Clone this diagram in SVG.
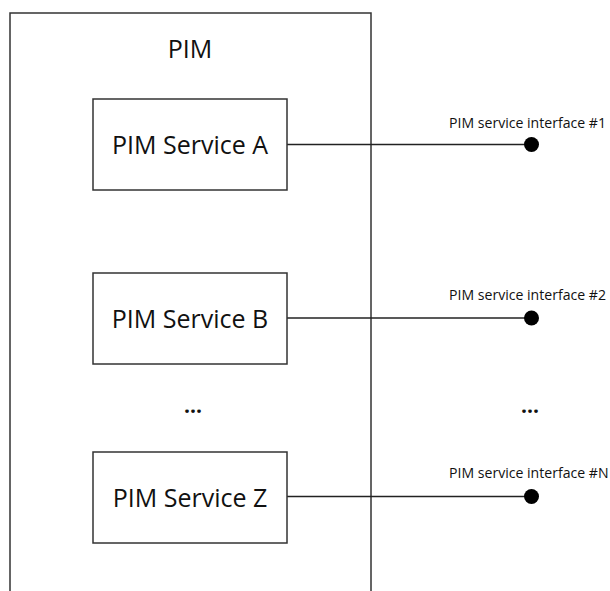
<svg xmlns="http://www.w3.org/2000/svg" width="610" height="591" viewBox="0 0 610 591">
<style>
.box{fill:#fff;stroke:#333;stroke-width:1.5}
.big{font-family:"Open Sans","Liberation Sans",sans-serif;font-size:25px;fill:#111;text-anchor:middle}
.ell{font-family:"Open Sans","Liberation Sans",sans-serif;font-size:21px;font-weight:bold;fill:#111;text-anchor:middle}
.lbl{font-family:"Open Sans","Liberation Sans",sans-serif;font-size:14.1px;fill:#111}
.conn{stroke:#222;stroke-width:1.4;fill:none}
.dot{fill:#000}
</style>
<rect width="610" height="591" fill="#fff"/>
<g id="pim">
<rect class="box" x="10" y="13" width="361" height="600"/>
<text class="big" x="190" y="58">PIM</text>
</g>
<g id="connectors">
<line class="conn" x1="287" y1="144.5" x2="531.5" y2="144.5"/>
<line class="conn" x1="287" y1="318" x2="531.5" y2="318"/>
<line class="conn" x1="287" y1="496.5" x2="531.5" y2="496.5"/>
</g>
<g id="serviceA">
<rect class="box" x="93" y="99" width="194" height="91"/>
<text class="big" x="190" y="154">PIM Service A</text>
</g>
<g id="serviceB">
<rect class="box" x="93" y="273" width="194" height="91"/>
<text class="big" x="190" y="328">PIM Service B</text>
</g>
<text class="ell" x="193" y="413">...</text>
<g id="serviceZ">
<rect class="box" x="93" y="452" width="194" height="91"/>
<text class="big" x="190" y="507">PIM Service Z</text>
</g>
<g id="iface1">
<circle class="dot" cx="531.5" cy="144.5" r="7.5"/>
<text class="lbl" x="449" y="128">PIM service interface #1</text>
</g>
<g id="iface2">
<circle class="dot" cx="531.5" cy="318" r="7.5"/>
<text class="lbl" x="449" y="300">PIM service interface #2</text>
</g>
<text class="ell" x="530" y="413">...</text>
<g id="ifaceN">
<circle class="dot" cx="531.5" cy="496.5" r="7.5"/>
<text class="lbl" x="449" y="478">PIM service interface #N</text>
</g>
</svg>
